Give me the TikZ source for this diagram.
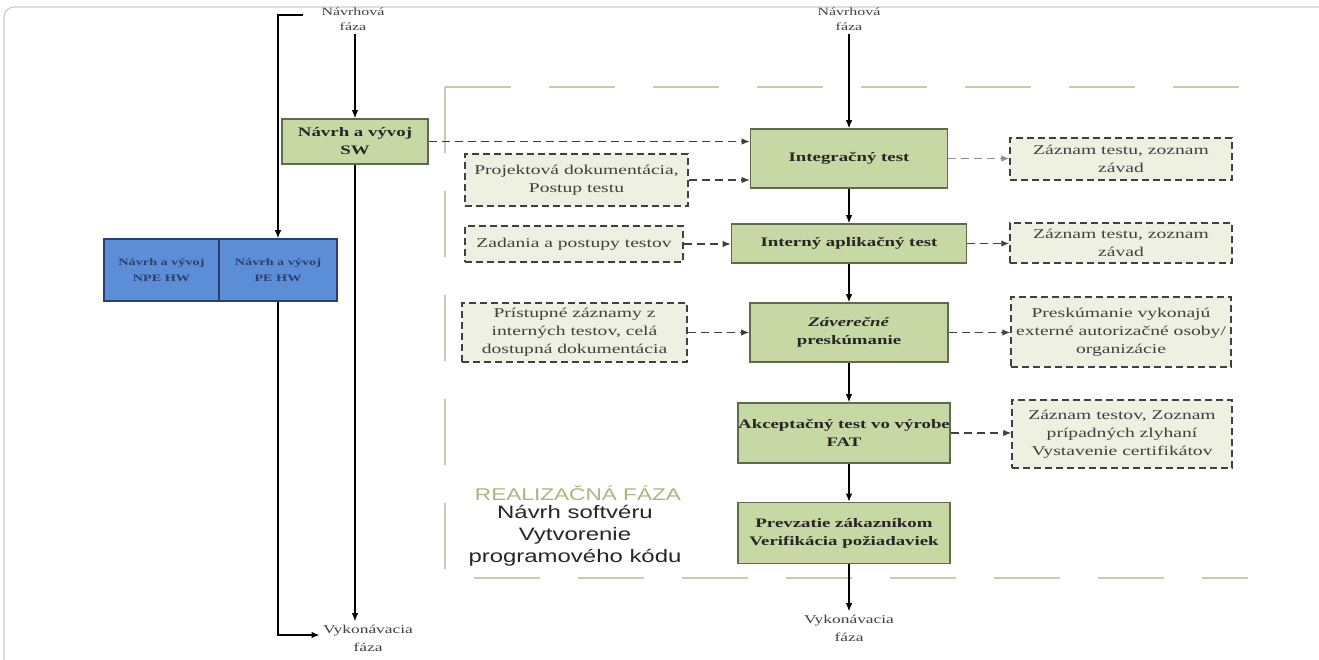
\documentclass[tikz,border=0pt]{standalone}
\usepackage{fontspec}
\setmainfont[FakeStretch=1.45]{Liberation Serif}
\newfontfamily\realfont[FakeStretch=1.33]{Liberation Sans}
\usepackage{tikz}
\usetikzlibrary{arrows.meta}
\definecolor{zelena}{HTML}{C8D8A4}
\definecolor{zelenaokraj}{HTML}{5E6B4E}
\definecolor{modra}{HTML}{5B8ED6}
\definecolor{modraokraj}{HTML}{2B3F6E}
\definecolor{bezova}{HTML}{EEF0E2}
\definecolor{olivova}{HTML}{A9B67E}
\definecolor{ramec}{HTML}{C6CCAE}
\tikzset{
  krok/.style={draw=zelenaokraj,line width=1.6pt,fill=zelena,inner sep=0pt,align=center,
    font=\fontsize{13}{18}\selectfont\bfseries,text=black!85},
  doklad/.style={draw=black!75,dash pattern=on 7pt off 4pt,line width=1.5pt,fill=bezova,inner sep=0pt,
    align=center,font=\fontsize{13.5}{18}\selectfont,text=black!75},
  hw/.style={draw=modraokraj,line width=1.5pt,fill=modra,inner sep=0pt,align=center,
    font=\fontsize{9.8}{16}\selectfont\bfseries,text=modraokraj},
  faza/.style={align=center,font=\fontsize{11}{15}\selectfont,text=black!75},
  tok/.style={-{Latex[length=8pt,width=6.5pt]},line width=1.2pt},
  vstup/.style={tok,dash pattern=on 8pt off 5pt,draw=black!75}
}
\begin{document}
\begin{tikzpicture}[x=1pt,y=-1pt]
\useasboundingbox (0,0) rectangle (1319,660);
\draw[black!20,line width=1.2pt,rounded corners=10pt](1319,7)--(4,7)--(4,662);
% realizacna faza
\draw[ramec,line width=2pt,dash pattern=on 66pt off 38pt](445,87)--(1248,87);
\draw[ramec,line width=2pt,dash pattern=on 66pt off 38pt](445,87)--(445,578)--(1248,578);
\node[font=\realfont\fontsize{17}{22}\selectfont,text=olivova] (real) at (578,493) {REALIZAČNÁ FÁZA};
\node[anchor=north,align=center,font=\realfont\fontsize{18}{22}\selectfont,text=black!85] (softver) at (575,502) {Návrh softvéru\\Vytvorenie\\programového kódu};

% lavy stlpec
\node[faza] (nav1) at (353,19) {Návrhová\\fáza};
\node[krok,minimum width=146pt,minimum height=45pt] (sw) at (355,141.5) {Návrh a vývoj\\SW};
\node[hw,minimum width=115pt,minimum height=62pt] (npe) at (161.5,270) {Návrh a vývoj\\NPE HW};
\node[hw,minimum width=118pt,minimum height=62pt] (pe) at (278,270) {Návrh a vývoj\\PE HW};
\node[faza,font=\fontsize{12}{18}\selectfont] (vyk1) at (368,638) {Vykonávacia\\fáza};
\coordinate (zac) at (303,15);
\draw[tok](nav1.south-|sw.north)--(sw.north);
\draw[tok](zac)-|(pe.north);
\draw[tok](pe.south)|-([yshift=3pt]vyk1.west);
\draw[tok](sw.south)--(sw.south|-vyk1.north);

% pravy stlpec
\node[faza] (nav2) at (849,19) {Návrhová\\fáza};
\node[krok,minimum width=197pt,minimum height=59pt] (integ) at (849,158.5) {Integračný test};
\node[krok,minimum width=235pt,minimum height=39pt] (inter) at (849,243.5) {Interný aplikačný test};
\node[krok,minimum width=198pt,minimum height=59pt] (zaver) at (849,332.5) {\textit{Záverečné}\\preskúmanie};
\node[krok,minimum width=212pt,minimum height=60pt] (akcept) at (844,433) {Akceptačný test vo výrobe\\FAT};
\node[krok,minimum width=212pt,minimum height=61pt] (prevz) at (844,533) {Prevzatie zákazníkom\\Verifikácia požiadaviek};
\node[faza,font=\fontsize{12}{18}\selectfont] (vyk2) at (849,628) {Vykonávacia\\fáza};
\draw[tok](nav2)--(integ);
\draw[tok](integ)--(inter);
\draw[tok](inter)--(zaver);
\draw[tok](zaver.south)--(zaver.south|-akcept.north);
\draw[tok](akcept.south-|zaver.south)--(zaver.south|-prevz.north);
\draw[tok](prevz.south-|zaver.south)--(zaver.south|-vyk2.north);

% vstupy
\node[doklad,minimum width=223pt,minimum height=52pt] (proj) at (576.5,180) {Projektová dokumentácia,\\Postup testu};
\node[doklad,minimum width=218pt,minimum height=36pt] (zad) at (574,244) {Zadania a postupy testov};
\node[doklad,minimum width=225pt,minimum height=59pt] (pri) at (574.5,332.5) {Prístupné záznamy z\\interných testov, celá\\dostupná dokumentácia};
\draw[vstup](sw.east)--(sw.east-|integ.west);
\draw[vstup](proj.east)--(proj.east-|integ.west);
\draw[vstup](zad.east)--(zad.east-|inter.west);
\draw[vstup](pri.east)--(pri.east-|zaver.west);

% vystupy
\node[doklad,minimum width=222pt,minimum height=42pt] (zaz1) at (1121,159) {Záznam testu, zoznam\\závad};
\node[doklad,minimum width=222pt,minimum height=40pt] (zaz2) at (1121,243) {Záznam testu, zoznam\\závad};
\node[doklad,minimum width=220pt,minimum height=70pt] (pre) at (1121,332) {Preskúmanie vykonajú\\externé autorizačné osoby/\\organizácie};
\node[doklad,minimum width=220pt,minimum height=68pt] (zaz4) at (1122,434) {Záznam testov, Zoznam\\prípadných zlyhaní\\Vystavenie certifikátov};
\draw[vstup,draw=black!45](integ.east)--(integ.east-|zaz1.west);
\draw[vstup](inter.east)--(inter.east-|zaz2.west);
\draw[vstup](zaver.east)--(zaver.east-|pre.west);
\draw[vstup](akcept.east)--(akcept.east-|zaz4.west);
\end{tikzpicture}
\end{document}
